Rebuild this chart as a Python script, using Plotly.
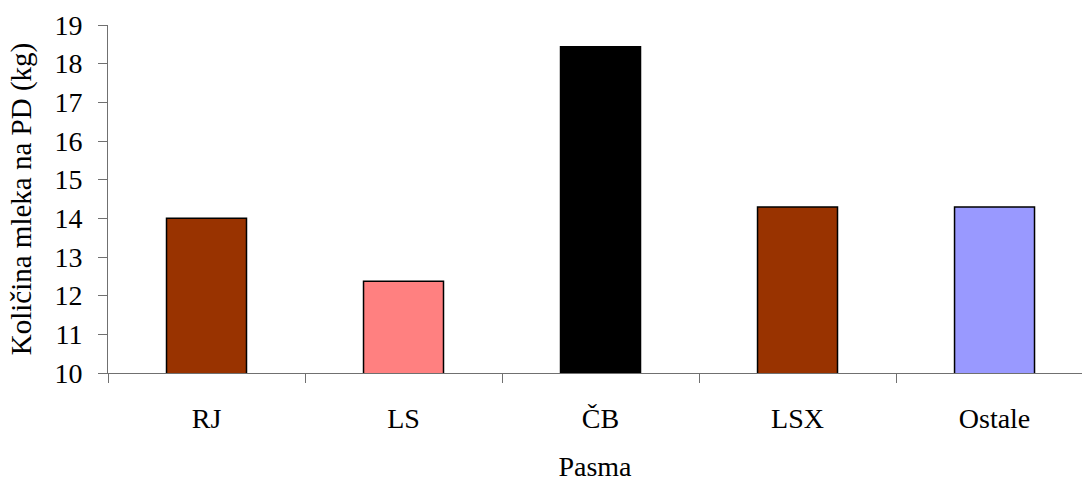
import plotly.graph_objects as go

categories = ["RJ", "LS", "ČB", "LSX", "Ostale"]
values = [14.0, 12.37, 18.44, 14.29, 14.29]
colors = ["#993300", "#FF8080", "#000000", "#993300", "#9999FF"]
y_ticks = [10, 11, 12, 13, 14, 15, 16, 17, 18, 19]

FONT = "Liberation Serif"

fig = go.Figure(go.Bar(
    x=categories, y=values,
    marker=dict(color=colors, line=dict(color="#000000", width=1.5)),
    width=0.406,
))

fig.update_layout(
    width=1082, height=482,
    margin=dict(l=108, r=0, t=25, b=109),
    paper_bgcolor="white", plot_bgcolor="white",
    font=dict(family=FONT, size=28, color="black"),
    showlegend=False,
    xaxis=dict(
        type="category", range=[-0.5, 4.444],
        tickson="boundaries", ticks="outside", ticklen=9, tickwidth=1, tickcolor="#707070",
        showline=True, linecolor="#707070", linewidth=1,
        showgrid=False, zeroline=False,
        ticklabelstandoff=20,
        tickfont=dict(family=FONT, size=28, color="black"),
        title=dict(text="Pasma", font=dict(family=FONT, size=28, color="black"), standoff=28),
    ),
    yaxis=dict(
        range=[10, 19], tickvals=y_ticks,
        ticks="outside", ticklen=9, tickwidth=1, tickcolor="#707070",
        showline=True, linecolor="#707070", linewidth=1,
        showgrid=False, zeroline=False,
        ticklabelstandoff=10,
        tickfont=dict(family=FONT, size=28, color="black"),
        title=dict(text="Količina mleka na PD (kg)", font=dict(family=FONT, size=29, color="black"), standoff=14),
    ),
)

fig.write_html("out.html")
